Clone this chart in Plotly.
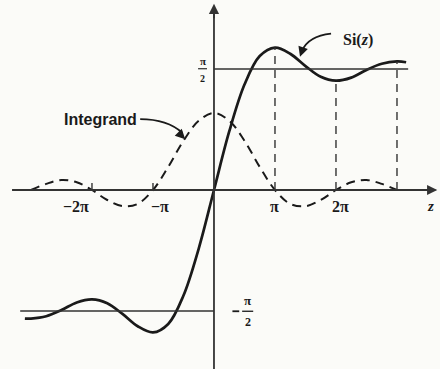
import plotly.graph_objects as go

# Sample points, z in units of pi
z_over_pi = [-3.1, -3.0, -2.75, -2.5, -2.25, -2.0, -1.75, -1.5, -1.25, -1.0, -0.75, -0.5, -0.25,
             0.0, 0.25, 0.5, 0.75, 1.0, 1.25, 1.5, 1.75, 2.0, 2.25, 2.5, 2.75, 3.0, 3.15]
# Sine integral Si(z)
si_values = [-1.67, -1.67, -1.64, -1.56, -1.46, -1.42, -1.47, -1.61, -1.77, -1.85, -1.74, -1.37, -0.76,
             0.0, 0.76, 1.37, 1.74, 1.85, 1.77, 1.61, 1.47, 1.42, 1.46, 1.56, 1.64, 1.67, 1.66]

# Integrand sin(z)/z
integrand_z_over_pi = [-3.0, -2.75, -2.5, -2.25, -2.0, -1.75, -1.5, -1.25, -1.0, -0.75, -0.5, -0.25,
                       0.0, 0.25, 0.5, 0.75, 1.0, 1.25, 1.5, 1.75, 2.0, 2.25, 2.5, 2.75, 3.0]
integrand_values = [0.0, 0.08, 0.13, 0.10, 0.0, -0.13, -0.21, -0.18, 0.0, 0.30, 0.64, 0.90,
                    1.0, 0.90, 0.64, 0.30, 0.0, -0.18, -0.21, -0.13, 0.0, 0.10, 0.13, 0.08, 0.0]

# Multiples of pi where Si(z) is dropped to the axis
drop_marks = [1.0, 2.0, 3.0]
asymptote = 1.5708  # pi/2

PI = 3.14159265
xs = [v * PI for v in z_over_pi]
xi = [v * PI for v in integrand_z_over_pi]

INK = "#1a1a1a"
AXIS = "#333333"
X_RANGE = [-11.02, 11.64]
Y_RANGE = [-2.325, 2.468]

fig = go.Figure()

# Integrand (dashed)
fig.add_trace(go.Scatter(x=xi, y=integrand_values, mode="lines",
                         line=dict(color=INK, width=2.0, dash="9px,6px", shape="spline"),
                         hoverinfo="skip"))
# Si(z)
fig.add_trace(go.Scatter(x=xs, y=si_values, mode="lines",
                         line=dict(color=INK, width=2.7, shape="spline"),
                         hoverinfo="skip"))
# Dashed drops at pi, 2pi, 3pi
for k in drop_marks:
    i = z_over_pi.index(k)
    fig.add_trace(go.Scatter(x=[xs[i], xs[i]], y=[0, si_values[i]], mode="lines",
                             line=dict(color=AXIS, width=1.4, dash="8px,6px"),
                             hoverinfo="skip"))

shapes = [
    # axes
    dict(type="line", x0=-10.4, x1=11.4, y0=0, y1=0, line=dict(color=AXIS, width=1.8)),
    dict(type="line", x0=0, x1=0, y0=Y_RANGE[0], y1=2.34, line=dict(color=AXIS, width=1.8)),
    # horizontal asymptotes +-pi/2
    dict(type="line", x0=0, x1=10.0, y0=asymptote, y1=asymptote, line=dict(color=AXIS, width=1.6)),
    dict(type="line", x0=-9.98, x1=0, y0=-asymptote, y1=-asymptote, line=dict(color=AXIS, width=1.6)),
    # small ticks at -2pi and -pi
    dict(type="line", x0=-2 * PI, x1=-2 * PI, y0=0, y1=0.09, line=dict(color=AXIS, width=1.4)),
    dict(type="line", x0=-PI, x1=-PI, y0=0, y1=0.09, line=dict(color=AXIS, width=1.4)),
    # leader curves
    dict(type="path", path="M 6.03,2.03 Q 4.85,2.00 4.52,1.80", line=dict(color=INK, width=1.8)),
    dict(type="path", path="M -3.80,0.92 Q -2.40,0.92 -1.62,0.74", line=dict(color=INK, width=1.8)),
    # fraction bars
    dict(type="line", x0=-0.82, x1=-0.36, y0=1.575, y1=1.575, line=dict(color=INK, width=1.1)),
    dict(type="line", x0=1.45, x1=2.02, y0=-1.575, y1=-1.575, line=dict(color=INK, width=1.3)),
    dict(type="line", x0=0.95, x1=1.3, y0=-1.575, y1=-1.575, line=dict(color=INK, width=1.8)),
]

SERIF = "Liberation Serif"
SANS = "Liberation Sans"


def label(x, y, text, size, family=SERIF, **kw):
    return dict(x=x, y=y, text=text, showarrow=False, xref="x", yref="y",
                font=dict(family=family, size=size, color=INK), **kw)


annotations = [
    # axis arrowheads
    dict(x=0, y=2.42, ax=0, ay=16, text="", showarrow=True, arrowhead=2, arrowsize=1.2,
         arrowwidth=1.7, arrowcolor=AXIS, xref="x", yref="y"),
    dict(x=11.5, y=0, ax=-16, ay=0, text="", showarrow=True, arrowhead=2, arrowsize=1.2,
         arrowwidth=1.7, arrowcolor=AXIS, xref="x", yref="y"),
    # leader arrowheads
    dict(x=4.43, y=1.73, ax=3, ay=-9, text="", showarrow=True, arrowhead=2, arrowsize=1.1,
         arrowwidth=1.8, arrowcolor=INK, xref="x", yref="y"),
    dict(x=-1.48, y=0.66, ax=-6, ay=-6, text="", showarrow=True, arrowhead=2, arrowsize=1.1,
         arrowwidth=1.8, arrowcolor=INK, xref="x", yref="y"),
    # text labels
    label(7.42, 1.95, "<b>Si(<i>z</i>)</b>", 16),
    label(-5.87, 0.92, "<b>Integrand</b>", 16, family=SANS),
    label(-7.11, -0.21, "<b>−2π</b>", 16),
    label(-2.78, -0.21, "<b>−π</b>", 16),
    label(PI, -0.21, "<b>π</b>", 16),
    label(6.54, -0.21, "<b>2π</b>", 16),
    label(11.15, -0.21, "<b><i>z</i></b>", 15),
    label(-0.59, 1.68, "<b>π</b>", 11),
    label(-0.59, 1.45, "<b>2</b>", 10),
    label(1.11, -1.575, "", 1),
    label(1.73, -1.44, "<b>π</b>", 13),
    label(1.73, -1.72, "<b>2</b>", 12),
]

fig.update_layout(
    width=440, height=369,
    margin=dict(l=0, r=0, t=0, b=0),
    paper_bgcolor="#fbfbf8", plot_bgcolor="#fbfbf8",
    showlegend=False,
    xaxis=dict(range=X_RANGE, visible=False, fixedrange=True),
    yaxis=dict(range=Y_RANGE, visible=False, fixedrange=True),
    shapes=shapes,
    annotations=annotations,
)

fig.write_html("out.html")
